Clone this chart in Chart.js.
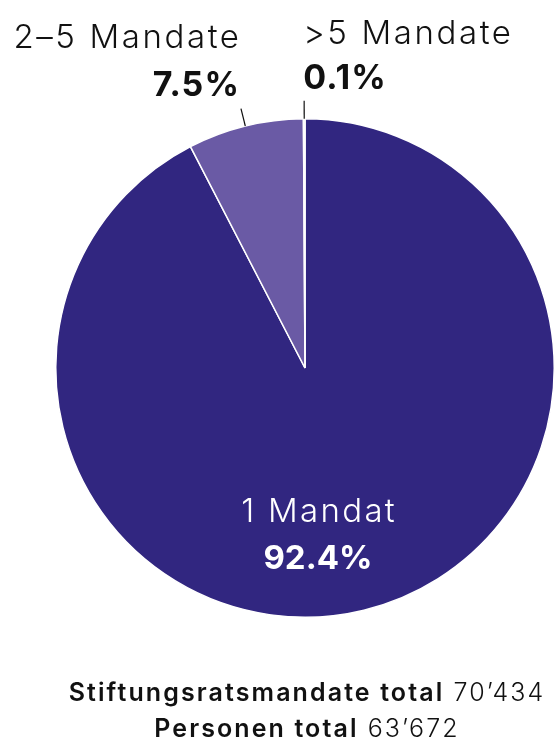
<!DOCTYPE html>
<html>
<head>
<meta charset="utf-8">
<script src="https://cdn.jsdelivr.net/npm/chart.js@4.4.0/dist/chart.umd.min.js"></script>
<style>
  html, body { margin: 0; padding: 0; background: #ffffff; }
  #wrap { position: relative; width: 555px; height: 744px; overflow: hidden; }
  #chart { position: absolute; left: 0; top: 0; }
  .foot { position: absolute; left: 0; width: 614px; text-align: center; font-family: Inter, "Noto Sans", sans-serif; font-size: 25px; color: #111; white-space: nowrap; line-height: 1; letter-spacing: 2.1px; }
  .foot b { font-weight: 600; }
  .foot span { font-weight: 300; }
</style>
</head>
<body>
<div id="wrap">
  <canvas id="chart" width="555" height="744"></canvas>
  <div class="foot" id="f1" style="top:680px"><b>Stiftungsratsmandate total</b> <span>70’434</span></div>
  <div class="foot" id="f2" style="top:716px"><b>Personen total</b> <span>63’672</span></div>
</div>
<script>
const categories = ["1 Mandat", "2–5 Mandate", ">5 Mandate"];
const shares = [92.4, 7.5, 0.1];
const shareLabels = ["92.4%", "7.5%", "0.1%"];
const sliceColors = ["#312680", "#6a5aa5", "#c4c0d4"];

const FONT = 'Inter, "Noto Sans", sans-serif';

function drawText(ctx, text, x, y, align, spacing) {
  ctx.letterSpacing = spacing + 'px';
  ctx.textAlign = align;
  let dx = 0;
  if (align === 'right') dx = spacing;
  else if (align === 'center') dx = spacing / 2;
  ctx.fillText(text, x + dx, y);
  ctx.letterSpacing = '0px';
}

const labelPlugin = {
  id: 'sliceLabels',
  afterDatasetsDraw(chart) {
    const ctx = chart.ctx;
    const arcs = chart.getDatasetMeta(0).data;
    ctx.save();
    ctx.textBaseline = 'alphabetic';
    arcs.forEach((arc, i) => {
      const {x: cx, y: cy, startAngle, endAngle, outerRadius: R} = arc.getProps(['x','y','startAngle','endAngle','outerRadius'], true);
      if (i === 0) {
        const lx = cx + 0.052 * R;
        ctx.fillStyle = '#ffffff';
        ctx.font = '300 33px ' + FONT;
        drawText(ctx, categories[i], lx, cy + 0.616 * R, 'center', 2.3);
        ctx.font = '700 33px ' + FONT;
        drawText(ctx, shareLabels[i], lx, cy + 0.808 * R, 'center', 0);
        return;
      }
      const mid = (startAngle + endAngle) / 2;
      const x0 = cx + Math.cos(mid) * R, y0 = cy + Math.sin(mid) * R;
      const r1 = R + 18;
      const x1 = cx + Math.cos(mid) * r1, y1 = cy + Math.sin(mid) * r1;
      ctx.strokeStyle = '#111111';
      ctx.lineWidth = 1.2;
      ctx.beginPath(); ctx.moveTo(x0, y0); ctx.lineTo(x1, y1); ctx.stroke();
      ctx.fillStyle = '#111111';
      let tx, nameBase, pctBase, align;
      if (i === 1) { align = 'right'; tx = x1 - 2; pctBase = y1 - 13; nameBase = y1 - 61; }
      else { align = 'left'; tx = x1 - 1; pctBase = y1 - 12; nameBase = y1 - 57; }
      ctx.font = '300 33px ' + FONT;
      drawText(ctx, categories[i], tx, nameBase, align, 2.6);
      ctx.font = '700 34px ' + FONT;
      drawText(ctx, shareLabels[i], tx, pctBase, align, 1.1);
    });
    ctx.restore();
  }
};

new Chart(document.getElementById('chart'), {
  type: 'pie',
  data: {
    labels: categories,
    datasets: [{
      data: shares,
      backgroundColor: sliceColors,
      borderColor: '#ffffff',
      borderWidth: 1.5
    }]
  },
  options: {
    responsive: false,
    animation: false,
    layout: { padding: { left: 55, right: 0, top: 118, bottom: 126 } },
    plugins: { legend: { display: false }, tooltip: { enabled: false } }
  },
  plugins: [labelPlugin]
});
</script>
</body>
</html>
